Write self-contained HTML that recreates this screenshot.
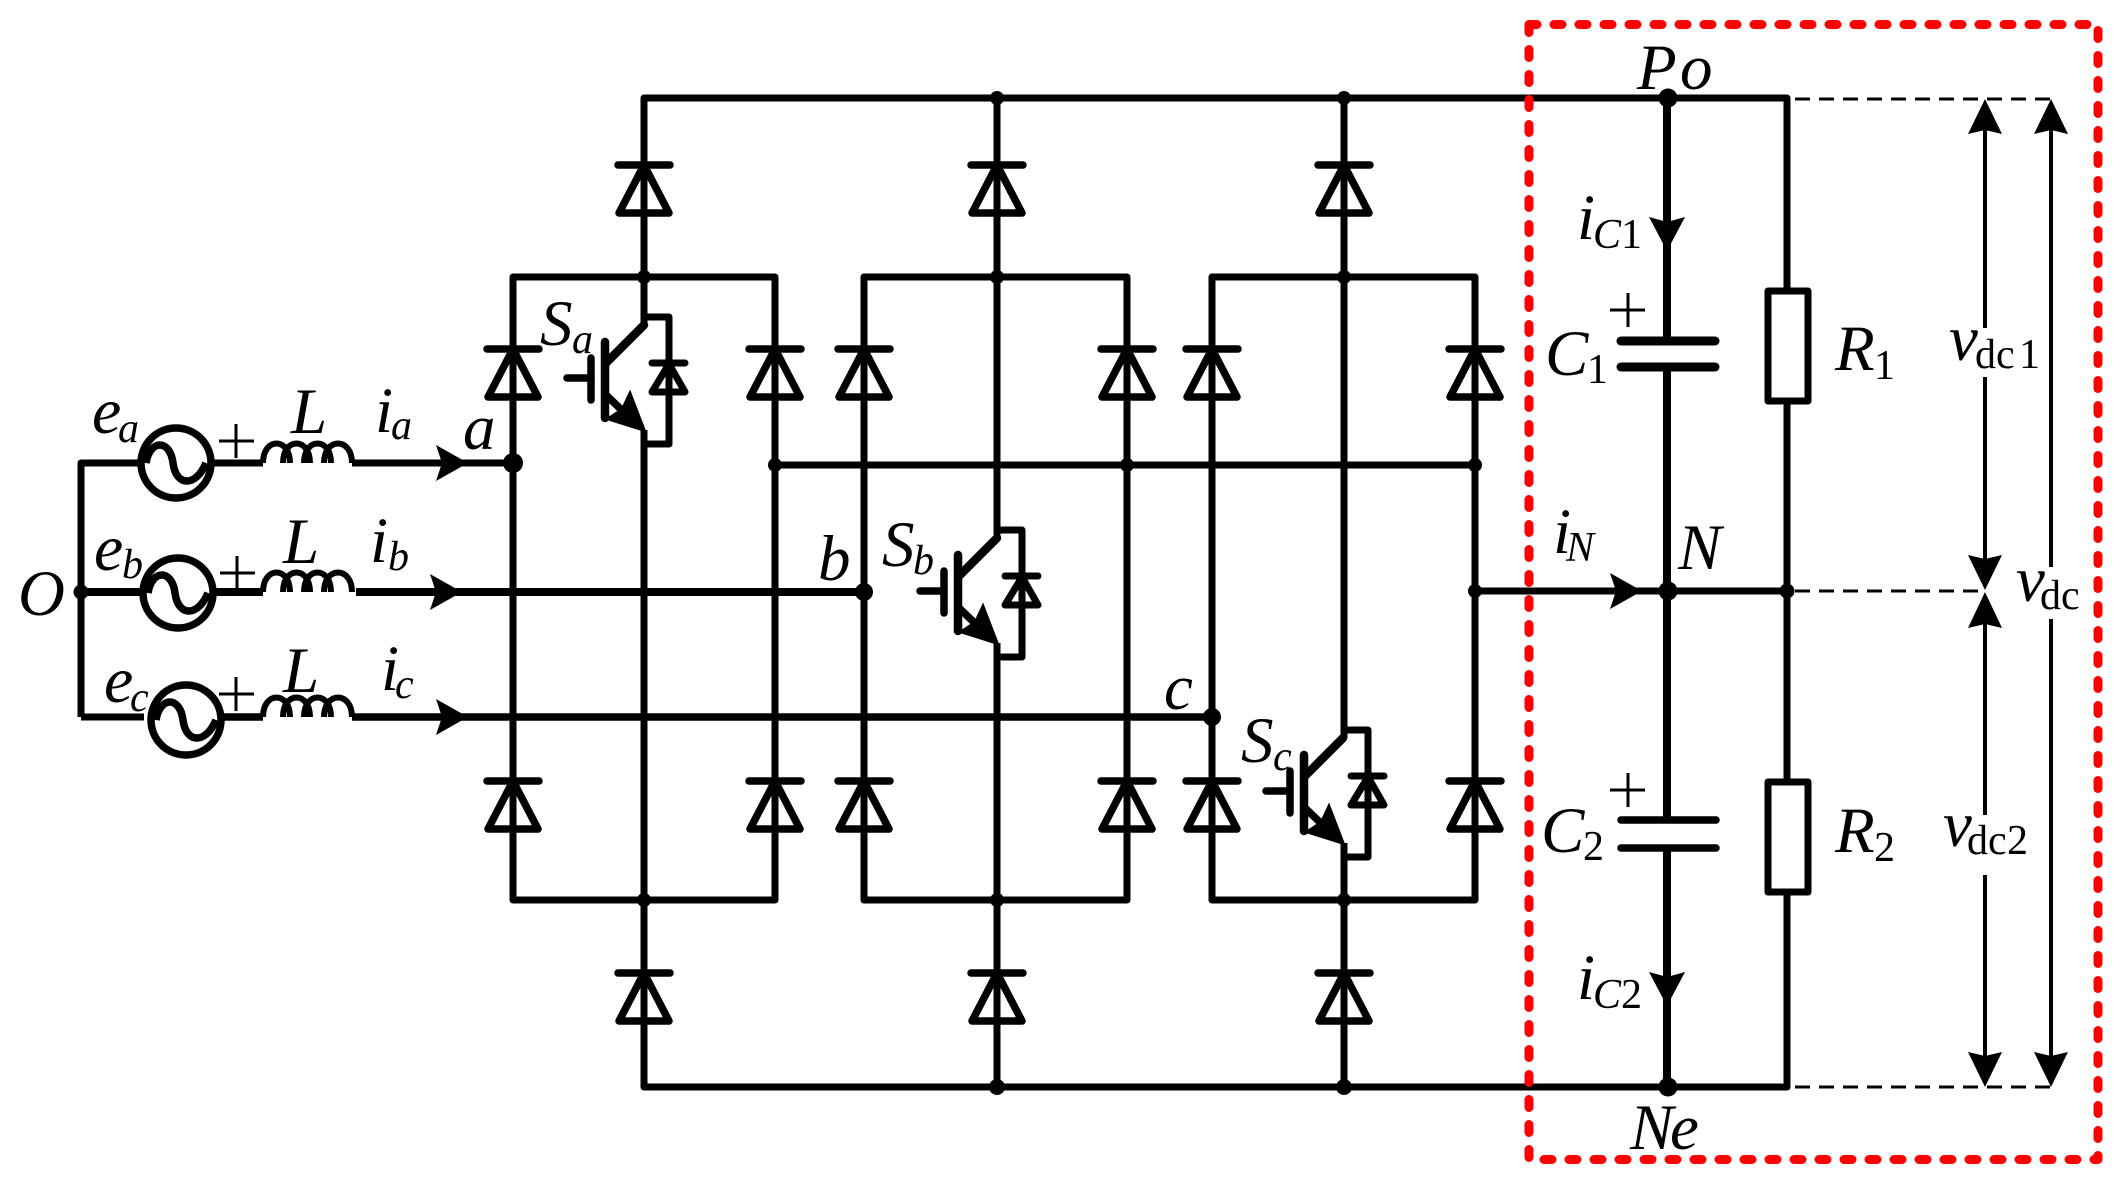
<!DOCTYPE html>
<html>
<head>
<meta charset="utf-8">
<style>
html,body{margin:0;padding:0;background:#fff;}
svg{display:block;}
text{font-family:"Liberation Serif",serif;fill:#000;}
.m{font-style:italic;font-size:65px;}
.s{font-style:italic;font-size:42px;}
.r{font-size:42px;}
</style>
</head>
<body>
<svg width="2126" height="1186" viewBox="0 0 2126 1186" xmlns="http://www.w3.org/2000/svg">
<defs>
  <g id="d" fill="none" stroke="#000" stroke-width="7.5" stroke-linejoin="round" stroke-linecap="round">
    <path d="M-26 0H26"/>
    <path d="M0 0L25 48H-25Z"/>
  </g>
  <g id="q">
    <g fill="none" stroke="#000" stroke-linecap="round" stroke-linejoin="round">
      <path d="M605 342V418" stroke-width="8.5"/>
      <path d="M591 358V400" stroke-width="7.5"/>
      <path d="M567 378H591" stroke-width="7.5"/>
      <path d="M606 363L644 325" stroke-width="8.5"/>
      <path d="M606 395L628 416" stroke-width="7.5"/>
      <path d="M644 317H669V444H644" stroke-width="7" stroke-linecap="butt"/>
      <path d="M652 363H685" stroke-width="7"/>
      <path d="M669 364L685 392H652Z" stroke-width="7"/>
    </g>
    <polygon points="630,392 645,431 607,419 622,409" fill="#000" stroke="#000" stroke-width="2"/>
  </g>
  <polygon id="ar" points="0,0 -32,-18 -26,0 -32,18" fill="#000"/>
  <polygon id="av" points="0,0 -18,-34 0,-29 18,-34" fill="#000"/>
  <g id="ind" fill="none" stroke="#000" stroke-width="6">
    <path d="M263 19 C263 -7 290 -7 290 19 M283 19 C283 -7 310 -7 310 19 M304 19 C304 -7 331 -7 331 19 M324 19 C324 -7 352 -7 352 19"/>
  </g>
  <g id="src" fill="none" stroke="#000" stroke-width="7.5">
    <circle cx="0" cy="0" r="35"/>
    <path d="M-30 0C-26 -24 -6 -24 -3 0C0 24 20 24 30 0"/>
  </g>
</defs>

<g fill="none" stroke="#000" stroke-width="7" stroke-linejoin="round">
  <!-- DC buses -->
  <path d="M644 277V98H1787V1087H644V900"/>
  <!-- leg verticals -->
  <path d="M997 98V538M997 643V1087M1344 98V738M1344 843V1087M644 277V325M644 430V900"/>
  <!-- box outlines -->
  <path d="M513 900V277H775V900Z"/>
  <path d="M864 900V277H1127V900Z"/>
  <path d="M1212 900V277H1475V900Z"/>
  <!-- mid connection -->
  <path d="M775 465H1475"/>
  <!-- phase lines -->
  <path d="M81 717V463H142"/>
  <path d="M81 717H144"/>
  <path d="M212 463H263M352 463H513"/>
  <path d="M81 592H145M212 592H263M356 592H864" stroke-width="8"/>
  <path d="M222 717H263M352 717H1212" stroke-width="7.5"/>
  <!-- N line -->
  <path d="M1475 591H1787"/>
  <!-- cap wires -->
  <path d="M1667 98V341M1667 367V820M1667 848V1087" stroke-width="8"/>
</g>

<!-- Diodes -->
<use href="#d" x="644" y="165"/><use href="#d" x="997" y="165"/><use href="#d" x="1344" y="165"/>
<use href="#d" x="644" y="973"/><use href="#d" x="997" y="973"/><use href="#d" x="1344" y="973"/>
<use href="#d" x="513" y="349"/><use href="#d" x="775" y="349"/>
<use href="#d" x="864" y="349"/><use href="#d" x="1127" y="349"/>
<use href="#d" x="1212" y="349"/><use href="#d" x="1475" y="349"/>
<use href="#d" x="513" y="781"/><use href="#d" x="775" y="781"/>
<use href="#d" x="864" y="781"/><use href="#d" x="1127" y="781"/>
<use href="#d" x="1212" y="781"/><use href="#d" x="1475" y="781"/>

<!-- IGBTs -->
<use href="#q"/>
<use href="#q" x="353" y="213"/>
<use href="#q" x="699" y="413"/>

<!-- Sources -->
<use href="#src" x="176" y="463"/>
<use href="#src" x="178" y="593"/>
<use href="#src" x="186" y="720"/>

<!-- Inductors -->
<use href="#ind" x="0" y="444"/>
<use href="#ind" x="0" y="573"/>
<use href="#ind" x="0" y="698"/>

<!-- plus signs -->
<g stroke="#000" stroke-width="3" fill="none">
  <path d="M219 441H254M236 424V458"/>
  <path d="M220 573H255M237 556V590"/>
  <path d="M219 694H254M236 677V711"/>
  <path d="M1610 310H1645M1628 293V327"/>
  <path d="M1610 790H1645M1628 773V807"/>
</g>

<!-- arrows -->
<use href="#ar" x="468" y="463"/>
<use href="#ar" x="462" y="592"/>
<use href="#ar" x="468" y="717"/>
<use href="#ar" x="1642" y="591"/>
<use href="#av" x="1667" y="251"/>
<use href="#av" x="1667" y="1006"/>

<!-- dots -->
<g fill="#000">
  <circle cx="81" cy="592" r="7.5"/>
  <circle cx="513" cy="463" r="10"/>
  <circle cx="864" cy="592" r="9"/>
  <circle cx="1212" cy="717" r="9"/>
  <circle cx="775" cy="465" r="7"/>
  <circle cx="1127" cy="465" r="7"/>
  <circle cx="1475" cy="465" r="7"/>
  <circle cx="1475" cy="591" r="7"/>
  <circle cx="644" cy="277" r="7"/><circle cx="997" cy="277" r="7"/><circle cx="1344" cy="277" r="7"/>
  <circle cx="644" cy="900" r="7"/><circle cx="997" cy="900" r="7"/><circle cx="1344" cy="900" r="7"/>
  <circle cx="997" cy="98" r="7"/><circle cx="1344" cy="98" r="7"/>
  <circle cx="997" cy="1087" r="8"/><circle cx="1344" cy="1087" r="8"/>
  <circle cx="1668" cy="98" r="9.5"/>
  <circle cx="1668" cy="591" r="9.5"/>
  <circle cx="1668" cy="1087" r="9.5"/>
  <circle cx="1787" cy="591" r="7.5"/>
</g>

<!-- capacitors -->
<g stroke="#000" stroke-linecap="round" fill="none">
  <path d="M1621 341H1715M1621 367H1715" stroke-width="9"/>
  <path d="M1621 820H1716M1621 848H1716" stroke-width="7.5"/>
</g>

<!-- resistors -->
<rect x="1768" y="291" width="40" height="110" fill="#fff" stroke="#000" stroke-width="7" stroke-linejoin="round"/>
<rect x="1768" y="782" width="40" height="110" fill="#fff" stroke="#000" stroke-width="7" stroke-linejoin="round"/>

<!-- voltage lines -->
<g stroke="#000" stroke-width="3" fill="none" stroke-dasharray="15 9">
  <path d="M1795 99H2053"/>
  <path d="M1795 591H1985"/>
  <path d="M1795 1087H2053"/>
</g>
<g stroke="#000" stroke-width="4" fill="none">
  <path d="M1985 125V328M1985 377V560"/>
  <path d="M1985 620V815M1985 875V1060"/>
  <path d="M2051 125V567M2051 619V1060"/>
</g>
<g fill="#000">
  <polygon points="1985,99 1968,134 1985,130 2002,134"/>
  <polygon points="2051,99 2034,134 2051,130 2068,134"/>
  <polygon points="1985,590 1968,555 1985,559 2002,555"/>
  <polygon points="1985,592 1968,628 1985,624 2002,628"/>
  <polygon points="1985,1087 1968,1052 1985,1056 2002,1052"/>
  <polygon points="2051,1087 2034,1052 2051,1056 2068,1052"/>
</g>

<!-- red dashed box -->
<rect x="1529" y="24.5" width="569" height="1135" fill="none" stroke="#fe0000" stroke-width="9" stroke-linecap="round" stroke-linejoin="round" stroke-dasharray="8 17"/>

<!-- labels -->
<text class="m" x="92" y="433" style="font-size:66px">e</text><text class="s" x="118" y="442">a</text>
<text class="m" x="94" y="570" style="font-size:66px">e</text><text class="s" x="122" y="578">b</text>
<text class="m" x="104" y="702" style="font-size:66px">e</text><text class="s" x="130" y="711">c</text>
<text class="m" x="18" y="615">O</text>
<text class="m" x="291" y="433">L</text>
<text class="m" x="283" y="563">L</text>
<text class="m" x="283" y="692">L</text>
<text class="m" x="375" y="432">i</text><text class="s" x="391" y="439">a</text>
<text class="m" x="370" y="562">i</text><text class="s" x="388" y="570">b</text>
<text class="m" x="381" y="690">i</text><text class="s" x="395" y="698">c</text>
<text class="m" x="463" y="449">a</text>
<text class="m" x="818" y="580">b</text>
<text class="m" x="1164" y="709">c</text>
<text class="m" x="540" y="345">S</text><text class="s" x="572" y="353">a</text>
<text class="m" x="882" y="566">S</text><text class="s" x="913" y="574">b</text>
<text class="m" x="1241" y="762">S</text><text class="s" x="1273" y="770">c</text>

<text class="m" x="1637" y="89">P</text><text class="m" x="1680" y="89">o</text>
<text class="m" x="1577" y="239">i</text><text class="s" x="1593" y="248">C</text><text class="r" x="1621" y="248">1</text>
<text class="m" x="1545" y="375">C</text><text class="r" x="1587" y="383">1</text>
<text class="m" x="1835" y="370">R</text><text class="r" x="1874" y="379">1</text>
<text class="m" x="1949" y="360">v</text><text class="r" x="1975" y="368">dc</text><text class="r" x="2019" y="368">1</text>
<text class="m" x="1553" y="553">i</text><text class="s" x="1566" y="561">N</text>
<text class="m" x="1678" y="569">N</text>
<text class="m" x="2016" y="601">v</text><text class="r" x="2040" y="609">dc</text>
<text class="m" x="1541" y="852">C</text><text class="r" x="1583" y="860">2</text>
<text class="m" x="1835" y="852">R</text><text class="r" x="1874" y="861">2</text>
<text class="m" x="1943" y="846">v</text><text class="r" x="1967" y="854">dc</text><text class="r" x="2007" y="854">2</text>
<text class="m" x="1577" y="999">i</text><text class="s" x="1593" y="1008">C</text><text class="r" x="1621" y="1008">2</text>
<text class="m" x="1630" y="1149">N</text><text class="m" x="1670" y="1149">e</text>
</svg>
</body>
</html>
